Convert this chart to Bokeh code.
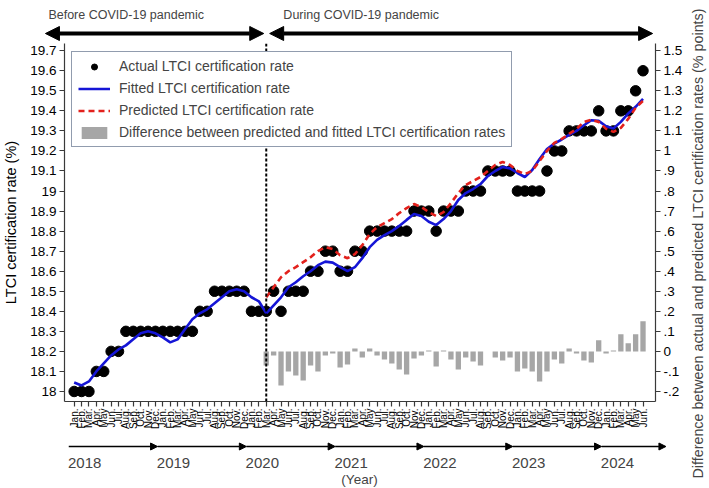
from math import pi

from bokeh.embed import file_html
from bokeh.layouts import column, row
from bokeh.models import (Arrow, FixedTicker, Label, Legend, LegendItem,
                          LinearAxis, NormalHead, Range1d, Span)
from bokeh.plotting import figure
from bokeh.resources import INLINE

# ---------------------------------------------------------------- data
month_names = ["Jan.", "Feb.", "Mar.", "Apr.", "May", "Jun.",
               "Jul.", "Aug.", "Sep.", "Oct.", "Nov.", "Dec."]
years = [2018, 2019, 2020, 2021, 2022, 2023, 2024]
n_months = 78                      # Jan. 2018 .. Jun. 2024
covid_start = 26                   # Mar. 2020

actual = [
    18.0, 18.0, 18.0, 18.1, 18.1, 18.2, 18.2, 18.3, 18.3, 18.3, 18.3, 18.3,
    18.3, 18.3, 18.3, 18.3, 18.3, 18.4, 18.4, 18.5, 18.5, 18.5, 18.5, 18.5,
    18.4, 18.4, 18.4, 18.5, 18.4, 18.5, 18.5, 18.5, 18.6, 18.6, 18.7, 18.7,
    18.6, 18.6, 18.7, 18.7, 18.8, 18.8, 18.8, 18.8, 18.8, 18.8, 18.9, 18.9,
    18.9, 18.8, 18.9, 18.9, 18.9, 19.0, 19.0, 19.0, 19.1, 19.1, 19.1, 19.1,
    19.0, 19.0, 19.0, 19.0, 19.1, 19.2, 19.2, 19.3, 19.3, 19.3, 19.3, 19.4,
    19.3, 19.3, 19.4, 19.4, 19.5, 19.6,
]
fitted = [
    18.045, 18.03, 18.05, 18.10, 18.14, 18.18, 18.21, 18.23, 18.26, 18.29, 18.30, 18.29,
    18.27, 18.245, 18.26, 18.31, 18.36, 18.39, 18.41, 18.44, 18.47, 18.50, 18.51, 18.50,
    18.47, 18.45, 18.39, 18.43, 18.47, 18.52, 18.545, 18.575, 18.60, 18.63, 18.648, 18.643,
    18.62, 18.60, 18.62, 18.665, 18.72, 18.756, 18.78, 18.80, 18.826, 18.856, 18.885, 18.875,
    18.847, 18.83, 18.86, 18.90, 18.955, 18.99, 19.01, 19.035, 19.075, 19.10, 19.12, 19.113,
    19.09, 19.07, 19.105, 19.16, 19.21, 19.237, 19.257, 19.28, 19.30, 19.328, 19.353, 19.35,
    19.323, 19.312, 19.345, 19.387, 19.42, 19.46,
]
# from Mar. 2020 onwards
predicted = [
    18.47, 18.52, 18.57, 18.60, 18.62, 18.645, 18.67, 18.70, 18.72, 18.71,
    18.68, 18.665, 18.685, 18.73, 18.785, 18.82, 18.84, 18.86, 18.89, 18.915, 18.935, 18.92,
    18.895, 18.875, 18.895, 18.94, 18.99, 19.03, 19.05, 19.07, 19.10, 19.13, 19.145, 19.13,
    19.10, 19.085, 19.10, 19.15, 19.20, 19.24, 19.26, 19.285, 19.31, 19.345, 19.355, 19.345,
    19.31, 19.295, 19.315, 19.36, 19.415, 19.45,
]
difference = [
    -0.07, -0.02, -0.17, -0.10, -0.12, -0.145, -0.07, -0.10, -0.02, -0.01,
    -0.08, -0.065, 0.015, -0.03, 0.015, -0.02, -0.04, -0.06, -0.09, -0.115, -0.035, -0.02,
    0.005, -0.075, 0.005, -0.04, -0.09, -0.03, -0.05, -0.07, 0.0, -0.03, -0.045, -0.03,
    -0.10, -0.085, -0.10, -0.15, -0.10, -0.04, -0.06, 0.015, -0.01, -0.045, -0.055, 0.055,
    -0.01, 0.005, 0.085, 0.04, 0.085, 0.15,
]

month_idx = list(range(n_months))
covid_idx = list(range(covid_start, n_months))
month_labels = [month_names[i % 12] for i in month_idx]

rate_ticks = [round(18.0 + 0.1 * i, 1) for i in range(18)]
diff_ticks = [round(-0.2 + 0.1 * i, 1) for i in range(18)]


def short_label(v):
    s = f"{v:g}"
    if s.startswith("0.") or s.startswith("-0."):
        s = s.replace("0.", ".", 1)
    return s


FONT = "Liberation Sans"
AXIS_COLOR = "#3a3a3a"
BLUE = "#1515d6"
RED = "#e3211c"
GREY = "#a6a6a6"

# ---------------------------------------------------------------- page geometry (px)
PAGE_W, PAGE_H = 709, 488
TITLE_W = 24                       # strip holding the right-hand axis title
MAIN_W = PAGE_W - TITLE_W
TOP_H = 43                         # period arrows
BOTTOM_H = 56                      # year timeline
MAIN_H = PAGE_H - TOP_H - BOTTOM_H
BORDER_L, BORDER_R, BORDER_B = 63, 30, 30

x_lo, x_hi = -1.31, 78.69
px_per_month = (MAIN_W - BORDER_L - BORDER_R) / (x_hi - x_lo)
# x range for the full-width strips so that months line up with the main frame
strip_x = Range1d(x_lo - BORDER_L / px_per_month, x_hi + BORDER_R / px_per_month)


def strip(height):
    f = figure(width=MAIN_W, height=height, x_range=strip_x,
               y_range=Range1d(0, height), output_backend="svg",
               toolbar_location=None, x_axis_type=None, y_axis_type=None,
               min_border=0, outline_line_color=None, frame_align=False,
               background_fill_color="white", border_fill_color="white")
    f.grid.visible = False
    return f


# ---------------------------------------------------------------- main figure
y_lo, y_hi = 17.95, 19.736
offset = 18.2                      # right axis = left axis - offset

p = figure(width=MAIN_W, height=MAIN_H,
           x_range=Range1d(x_lo, x_hi), y_range=Range1d(y_lo, y_hi),
           output_backend="svg", toolbar_location=None,
           min_border_left=BORDER_L, min_border_right=BORDER_R,
           min_border_top=0, min_border_bottom=BORDER_B,
           outline_line_color=None, frame_align=False,
           background_fill_color="white", border_fill_color="white")
p.grid.visible = False
p.extra_y_ranges = {"diff": Range1d(y_lo - offset, y_hi - offset)}

# bottom axis: one tick per month
xa = p.xaxis[0]
xa.ticker = FixedTicker(ticks=month_idx)
xa.major_label_overrides = {i: lab for i, lab in zip(month_idx, month_labels)}
xa.major_label_orientation = pi / 2
xa.major_label_text_font = FONT
xa.major_label_text_font_size = "10px"
xa.major_label_standoff = 2
xa.major_tick_in = 0
xa.major_tick_out = 5

# left axis
ya = p.yaxis[0]
ya.ticker = FixedTicker(ticks=rate_ticks)
ya.major_label_overrides = {v: f"{v:g}" for v in rate_ticks}
ya.axis_label = "LTCI certification rate (%)"
ya.axis_label_standoff = 8
ya.axis_label_text_font_style = "normal"

# right axis
ra = LinearAxis(y_range_name="diff", ticker=FixedTicker(ticks=diff_ticks),
                major_label_overrides={v: short_label(v) for v in diff_ticks})
p.add_layout(ra, "right")

for ax in (xa, ya, ra):
    ax.axis_line_color = AXIS_COLOR
    ax.axis_line_width = 1.2
    ax.major_tick_line_color = AXIS_COLOR
    ax.major_tick_line_width = 1.2
    ax.minor_tick_line_color = None
    ax.axis_label_text_font = FONT
    ax.axis_label_text_font_size = "14.5px"
    ax.axis_label_text_color = "black"
    ax.major_label_text_color = "black"
for ax in (ya, ra):
    ax.major_tick_in = 0
    ax.major_tick_out = 5
    ax.major_label_standoff = 3
    ax.major_label_text_font = FONT
    ax.major_label_text_font_size = "13.5px"

r_bar = p.vbar(x=covid_idx, top=difference, bottom=0, width=0.72,
               y_range_name="diff", fill_color=GREY, line_color=None)
r_dot = p.scatter(x=month_idx, y=actual, size=10.5, marker="circle",
                  fill_color="black", line_color="black")
r_fit = p.line(x=month_idx, y=fitted, line_color=BLUE, line_width=2.6)
r_pred = p.line(x=covid_idx, y=predicted, line_color=RED, line_width=2.6,
                line_dash="6 4")

p.add_layout(Span(location=covid_start, dimension="height",
                  line_color="black", line_width=2, line_dash="3 2"))

legend = Legend(items=[
    LegendItem(label="Actual LTCI certification rate", renderers=[r_dot]),
    LegendItem(label="Fitted LTCI certification rate", renderers=[r_fit]),
    LegendItem(label="Predicted LTCI certification rate", renderers=[r_pred]),
    LegendItem(label="Difference between predicted and fitted LTCI certification rates",
               renderers=[r_bar]),
], location=(7, 254), orientation="vertical",
    label_text_font=FONT, label_text_font_size="14px",
    glyph_width=32, glyph_height=15, label_height=15, label_standoff=9,
    spacing=6, padding=6, margin=0,
    border_line_color="#233a5e", border_line_width=1.2,
    background_fill_color="white", background_fill_alpha=1.0)
p.add_layout(legend)

# ---------------------------------------------------------------- period arrows (top strip)
top = strip(TOP_H)
arrow_y, text_y = 10, 29
for x0, x1 in ((-3.75, covid_start - 0.25), (covid_start + 0.55, 78.3)):
    top.add_layout(Arrow(start=NormalHead(size=14, fill_color="black", line_color="black"),
                         end=NormalHead(size=14, fill_color="black", line_color="black"),
                         x_start=x0, y_start=arrow_y, x_end=x1, y_end=arrow_y,
                         line_color="black", line_width=4))
top.add_layout(Label(x=-3.35, y=text_y, text="Before COVID-19 pandemic",
                     text_align="left", text_baseline="middle",
                     text_font=FONT, text_font_size="12.5px"))
top.add_layout(Label(x=28.4, y=text_y, text="During COVID-19 pandemic",
                     text_align="left", text_baseline="middle",
                     text_font=FONT, text_font_size="12.5px"))

# ---------------------------------------------------------------- year timeline (bottom strip)
bottom = strip(BOTTOM_H)
year_arrow_y, year_text_y = 42, 26
year_starts = [12 * k for k in range(len(years))]
year_ends = year_starts[1:] + [n_months]
for yr, s, e in zip(years, year_starts, year_ends):
    bottom.add_layout(Arrow(end=NormalHead(size=7, fill_color="black", line_color="black"),
                            x_start=s - 0.6, y_start=year_arrow_y,
                            x_end=e - 0.6 if e < n_months else e + 2.1, y_end=year_arrow_y,
                            line_color="black", line_width=1.5))
    bottom.add_layout(Label(x=s - 0.7, y=year_text_y, text=str(yr),
                            text_align="left", text_baseline="middle",
                            text_font=FONT, text_font_size="15px"))
bottom.add_layout(Label(x=(x_lo + x_hi) / 2, y=9, text="(Year)", text_align="center",
                        text_baseline="middle", text_font=FONT, text_font_size="13.5px"))

# ---------------------------------------------------------------- right-hand axis title
title = figure(width=TITLE_W, height=PAGE_H, x_range=Range1d(0, 1),
               y_range=Range1d(0, PAGE_H), output_backend="svg",
               toolbar_location=None, x_axis_type=None, y_axis_type=None,
               min_border=0, outline_line_color=None, frame_align=False,
               background_fill_color="white", border_fill_color="white")
title.grid.visible = False
title.add_layout(Label(x=0.5, y=PAGE_H - 243, angle=pi / 2,
                       text="Difference between actual and predicted LTCI certification rates (% points)",
                       text_align="center", text_baseline="middle",
                       text_font=FONT, text_font_size="14.3px"))

page = row(column(top, p, bottom, spacing=0), title, spacing=0)

open("out.html", "w").write(file_html(page, INLINE))
